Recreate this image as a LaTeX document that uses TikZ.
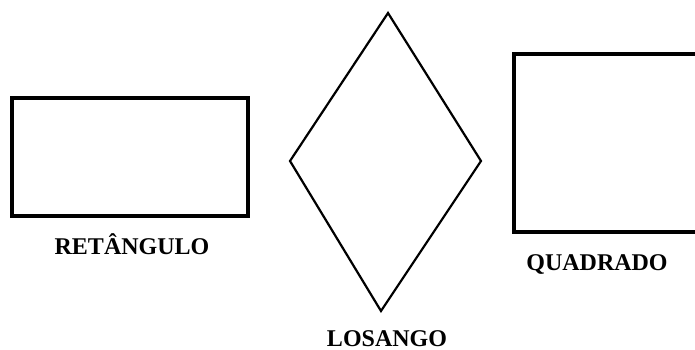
\documentclass[tikz,border=0pt]{standalone}
\usepackage{fontspec}
\setmainfont{Liberation Serif}
\begin{document}
\begin{tikzpicture}[x=1pt,y=-1pt,
  thickbox/.style={draw=black,line width=4pt},
  thinshape/.style={draw=black,line width=2.2pt,line join=miter},
  lbl/.style={font=\fontsize{24}{28}\selectfont\bfseries,anchor=base,inner sep=0pt}]
\useasboundingbox (0,0) rectangle (695,350);
\clip (0,0) rectangle (695,350);
% rectangle
\draw[thickbox] (11.5,98) rectangle (248,216);
\node[lbl] (ret) at (132,254) {RETÂNGULO};
% rhombus
\draw[thinshape] (388,13) -- (481,161) -- (381,311) -- (290,161) -- cycle;
\node[lbl] (los) at (387,346) {LOSANGO};
% square
\draw[thickbox] (514,54) rectangle (700,232);
\node[lbl] (qua) at (597,270) {QUADRADO};
\end{tikzpicture}
\end{document}
